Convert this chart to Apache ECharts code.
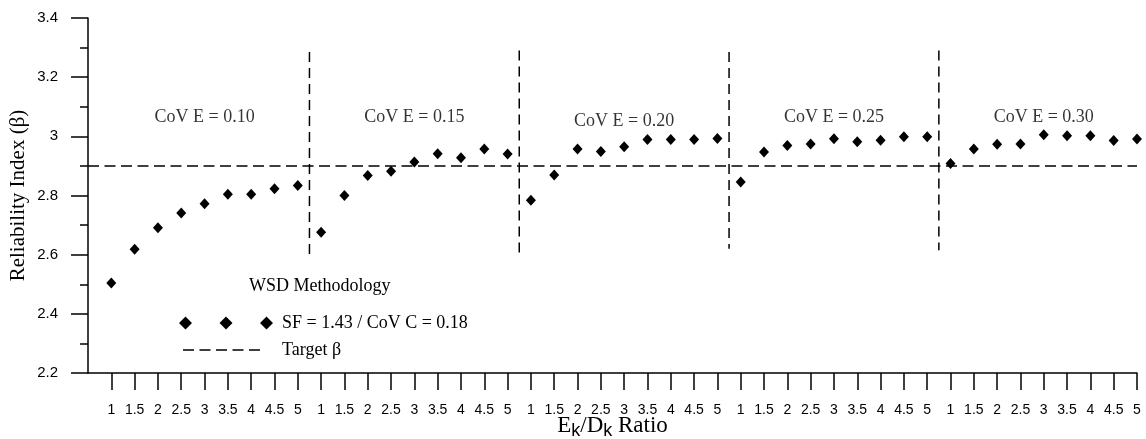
<!DOCTYPE html>
<html><head><meta charset="utf-8">
<script src="https://cdn.jsdelivr.net/npm/echarts@6/dist/echarts.min.js"></script>
<style>html,body{margin:0;padding:0;background:#fff}#c{width:1146px;height:439px}</style>
</head><body><div id="c"></div>
<script>
// ---- data ----
const ratioLabels = ['1','1.5','2','2.5','3','3.5','4','4.5','5'];
const covLabels = ['CoV E = 0.10','CoV E = 0.15','CoV E = 0.20','CoV E = 0.25','CoV E = 0.30'];
const beta010 = [2.504,2.618,2.691,2.741,2.772,2.804,2.804,2.823,2.834];
const beta015 = [2.676,2.800,2.868,2.882,2.913,2.941,2.928,2.957,2.940];
const beta020 = [2.784,2.869,2.957,2.949,2.965,2.989,2.989,2.989,2.993];
const beta025 = [2.846,2.947,2.969,2.974,2.992,2.982,2.987,2.999,2.999];
const beta030 = [2.908,2.957,2.973,2.974,3.005,3.002,3.002,2.986,2.991];
const targetBeta = 2.9;
const covLabelBeta = [3.066,3.066,3.05,3.066,3.066];
const dividerTop = [3.285,3.29,3.285,3.29];
const dividerBottom = [2.59,2.59,2.62,2.615];
const seriesName = 'SF = 1.43 / CoV C = 0.18';
const targetName = 'Target β';

// ---- build ----
const groups = [beta010, beta015, beta020, beta025, beta030];
const n = ratioLabels.length;
const points = [];
groups.forEach((g, gi) => g.forEach((v, i) => points.push([gi * n + i + 1, v])));
const tickVals = [];
for (let i = 1; i <= groups.length * n; i++) tickVals.push(i);
const total = groups.length * n;

const serif = 'Liberation Serif';
const sans = 'Liberation Sans';

const dividerSeries = dividerTop.map((t, k) => ({
  type: 'line', silent: true, symbol: 'none',
  data: [[(k + 1) * n + 0.5, t], [(k + 1) * n + 0.5, dividerBottom[k]]],
  lineStyle: { color: '#000', width: 1.5, type: [10, 6] }
}));

const diamondsIcon = 'path://M6.5,0L13,6.5L6.5,13L0,6.5Z M47,0L53.5,6.5L47,13L40.5,6.5Z M87.5,0L94,6.5L87.5,13L81,6.5Z';
// five dashes, with two near-invisible specks fixing the 77x12 box
const dashesIcon = 'path://M0,0L0.02,0L0,0.02Z M77,12L76.98,12L77,11.98Z ' +
  'M0,5.25h11v1.5h-11Z M16.5,5.25h11v1.5h-11Z M33,5.25h11v1.5h-11Z M49.5,5.25h11v1.5h-11Z M66,5.25h11v1.5h-11Z';

const chart = echarts.init(document.getElementById('c'), null, { renderer: 'canvas' });
chart.setOption({
  animation: false,
  backgroundColor: '#fff',
  grid: { left: 88, right: 9, top: 18, bottom: 66, containLabel: false, outerBoundsMode: 'none' },
  title: {
    text: 'WSD Methodology', left: 249, top: 277, padding: 0,
    textStyle: { fontFamily: serif, fontSize: 18, fontWeight: 'normal', color: '#000' }
  },
  legend: [
    {
      data: [{ name: seriesName, icon: diamondsIcon }],
      left: 179, top: 314, padding: 0, itemWidth: 94, itemHeight: 13,
      selectedMode: false,
      textStyle: { fontFamily: serif, fontSize: 18, color: '#000', padding: [0, 0, 0, 4] }
    },
    {
      data: [{ name: targetName, icon: dashesIcon }],
      left: 183, top: 341, padding: 0, itemWidth: 77, itemHeight: 12,
      selectedMode: false,
      itemStyle: { color: '#000', borderWidth: 0 },
      textStyle: { fontFamily: serif, fontSize: 18, color: '#000', padding: [0, 0, 0, 17] }
    }
  ],
  xAxis: {
    type: 'value', min: 0, max: total,
    splitLine: { show: false },
    axisLine: { show: true, onZero: false, lineStyle: { color: '#000', width: 1.5 } },
    axisTick: { show: true, customValues: tickVals, length: 17, lineStyle: { color: '#000', width: 1.5 } },
    axisLabel: {
      customValues: tickVals, margin: 30, fontFamily: sans, fontSize: 14, color: '#000',
      formatter: v => ratioLabels[(Math.round(v) - 1) % n]
    },
    name: '{a|E}{s|k}{a|/D}{s|k}{a| Ratio}',
    nameLocation: 'middle', nameGap: 40, nameMoveOverlap: false,
    nameTextStyle: {
      rich: {
        a: { fontFamily: serif, fontSize: 23, color: '#000', lineHeight: 26 },
        s: { fontFamily: sans, fontSize: 18, color: '#000', lineHeight: 26, padding: [10, 0, 0, 0] }
      }
    }
  },
  yAxis: {
    type: 'value', min: 2.2, max: 3.4, interval: 0.2,
    splitLine: { show: false },
    axisLine: { show: true, lineStyle: { color: '#000', width: 1.5 } },
    axisTick: { show: true, length: 17, lineStyle: { color: '#000', width: 1.5 } },
    minorTick: { show: true, splitNumber: 2, length: 8, lineStyle: { color: '#000', width: 1.5 } },
    axisLabel: {
      margin: 30, fontFamily: sans, fontSize: 15, color: '#000',
      formatter: v => String(Math.round(v * 10) / 10)
    },
    name: 'Reliability Index (β)',
    nameLocation: 'middle', nameGap: 59, nameRotate: 90, nameMoveOverlap: false,
    nameTextStyle: { fontFamily: serif, fontSize: 21, color: '#000' }
  },
  series: [
    {
      name: seriesName, type: 'scatter', data: points,
      symbol: 'diamond', symbolSize: [10, 11],
      itemStyle: { color: '#000', opacity: 1 }
    },
    {
      name: targetName, type: 'line', symbol: 'none',
      data: [[0, targetBeta], [total, targetBeta]],
      lineStyle: { color: '#000', width: 1.5, type: [11, 5.5] },
      itemStyle: { color: '#000' }
    },
    ...dividerSeries,
    {
      type: 'scatter', silent: true, symbolSize: 1,
      itemStyle: { color: 'rgba(0,0,0,0)' },
      data: covLabels.map((t, k) => ({ value: [k * n + (n + 1) / 2, covLabelBeta[k]], name: t })),
      label: {
        show: true, position: 'inside', formatter: p => p.name,
        fontFamily: serif, fontSize: 18, color: '#000'
      }
    }
  ]
});
</script></body></html>
